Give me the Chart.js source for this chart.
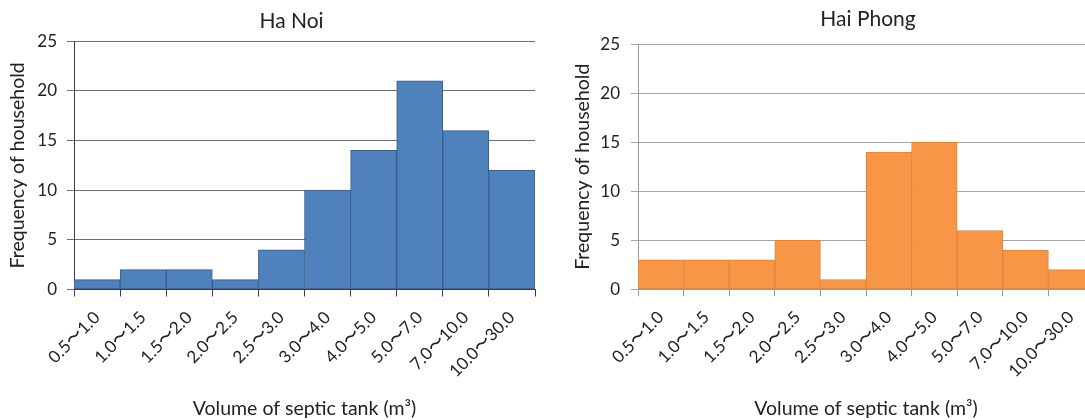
<!DOCTYPE html>
<html>
<head>
<meta charset="utf-8">
<script src="https://cdn.jsdelivr.net/npm/chart.js@4"></script>
<style>
  html, body { margin: 0; padding: 0; background: #fff; }
  #wrap { position: relative; width: 1085px; height: 420px; overflow: hidden; background: #fff; }
  #wrap canvas { position: absolute; top: 0; }
</style>
</head>
<body>
<div id="wrap">
  <canvas id="hanoi" width="562" height="420" style="left:0"></canvas>
  <canvas id="haiphong" width="608" height="420" style="left:562px"></canvas>
</div>
<script>
// Septic tank volume classes (m³)
const volumeBins = ['0.5〜1.0', '1.0〜1.5', '1.5〜2.0', '2.0〜2.5', '2.5〜3.0',
                    '3.0〜4.0', '4.0〜5.0', '5.0〜7.0', '7.0〜10.0', '10.0〜30.0'];
// Number of households in each class
const hanoiCounts    = [1, 2, 2, 1, 4, 10, 14, 21, 16, 12];
const haiphongCounts = [3, 3, 3, 5, 1, 14, 15, 6, 4, 2];
const yTicks = [0, 5, 10, 15, 20, 25];

const FONT = 'Lato';
const TEXT = '#222';

// Moves the chart title horizontally relative to the middle of the plot area
const titleShift = {
  id: 'titleShift',
  afterLayout(chart, args, opts) {
    const t = chart.titleBlock, a = chart.chartArea;
    if (!t || !a) return;
    const half = (t.right - t.left) / 2;
    const cx = (a.left + a.right) / 2 + (opts.dx || 0);
    t.left = cx - half;
    t.right = cx + half;
  }
};

function histogram(canvasId, cfg) {
  return new Chart(document.getElementById(canvasId), {
    type: 'bar',
    plugins: [titleShift],
    data: {
      labels: volumeBins,
      datasets: [{
        data: cfg.values,
        backgroundColor: cfg.fill,
        borderColor: cfg.edge,
        borderWidth: 1,
        borderSkipped: false,
        barPercentage: 1,
        categoryPercentage: 1
      }]
    },
    options: {
      responsive: false,
      animation: false,
      layout: { padding: { left: 0, right: cfg.padRight, top: 0, bottom: 0 } },
      plugins: {
        legend: { display: false },
        tooltip: { enabled: false },
        titleShift: { dx: cfg.titleDx },
        title: {
          display: true,
          text: cfg.title,
          color: TEXT,
          font: { family: FONT, size: 21, weight: 'normal' },
          padding: cfg.titlePad
        }
      },
      scales: {
        x: {
          offset: true,
          grid: { offset: true, drawOnChartArea: false, color: cfg.axis, tickLength: 7 },
          border: { color: cfg.axis },
          ticks: {
            autoSkip: false, minRotation: 45, maxRotation: 45,
            color: TEXT, font: { family: FONT, size: 17 }, padding: 11
          },
          title: {
            display: true, text: 'Volume of septic tank (m³)', color: TEXT,
            font: { family: FONT, size: 19.5 }, padding: { top: 0, bottom: 0 }
          },
          afterFit: s => { s.height = cfg.xHeight; }
        },
        y: {
          min: 0, max: 25,
          afterBuildTicks: s => { s.ticks = yTicks.map(v => ({ value: v })); },
          grid: { color: cfg.grid, tickLength: 7 },
          border: { color: cfg.axis },
          ticks: { color: TEXT, font: { family: FONT, size: 17 }, padding: cfg.yTickPad },
          title: {
            display: true, text: 'Frequency of household', color: TEXT,
            font: { family: FONT, size: 19.5 }, padding: { top: cfg.yTitlePad, bottom: 0 }
          },
          afterFit: s => { s.width = cfg.yWidth; }
        }
      }
    }
  });
}

histogram('hanoi', {
  title: 'Ha Noi', values: hanoiCounts,
  fill: '#4F81BD', edge: '#385D8A',
  grid: '#6e6e6e', axis: '#3c3c3c',
  yWidth: 74, padRight: 27, xHeight: 130.5,
  yTickPad: 10, yTitlePad: 6, titleDx: -13,
  titlePad: { top: 9, bottom: 7 }
});

histogram('haiphong', {
  title: 'Hai Phong', values: haiphongCounts,
  fill: '#F79646', edge: '#DD8340',
  grid: '#a6a6a6', axis: '#9a9a9a',
  yWidth: 76, padRight: 76, xHeight: 130.7,
  yTickPad: 11, yTitlePad: 9, titleDx: 2,
  titlePad: { top: 7, bottom: 12 }
});
</script>
</body>
</html>
